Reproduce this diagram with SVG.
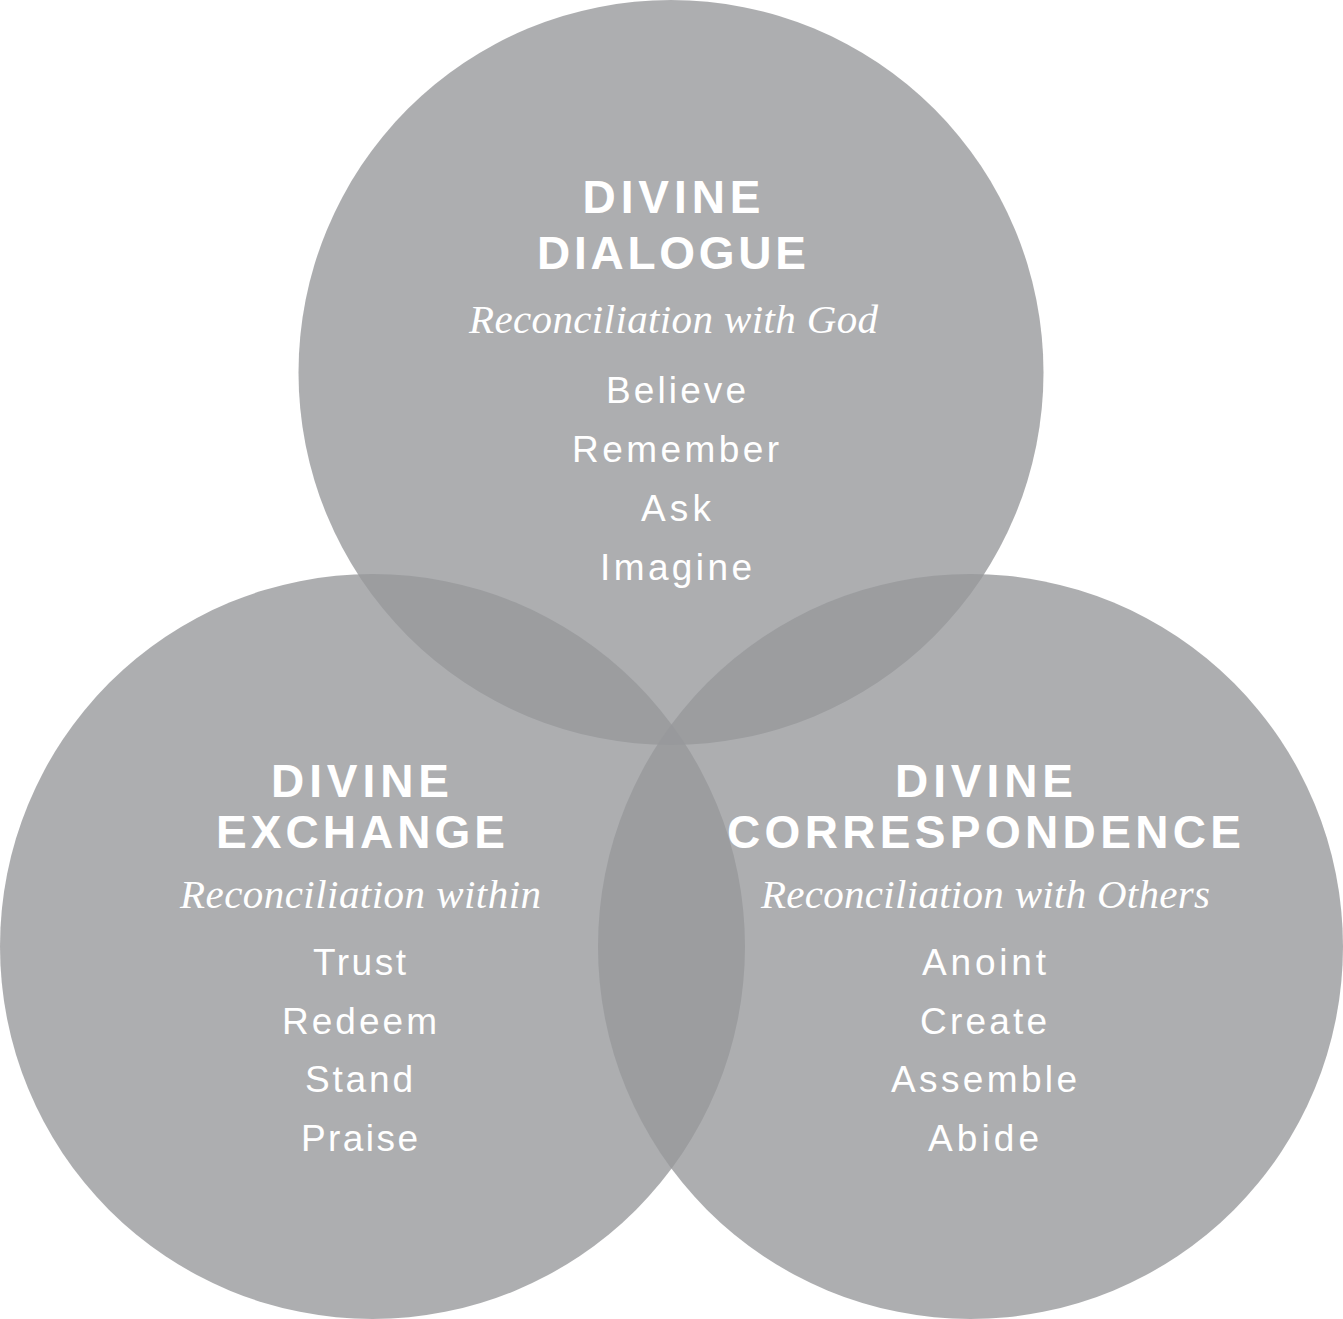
<svg xmlns="http://www.w3.org/2000/svg" width="1343" height="1319" viewBox="0 0 1343 1319">
<style>
.c{fill:rgb(151,152,155);fill-opacity:0.79}
.h{font-family:"Liberation Sans",Arial,sans-serif;font-weight:bold;font-size:46px;fill:#fff;text-anchor:middle}
.s{font-family:"Liberation Serif","Times New Roman",serif;font-style:italic;font-size:41px;fill:#fff;text-anchor:middle}
.l{font-family:"Liberation Sans",Arial,sans-serif;font-size:37px;fill:#fff;text-anchor:middle}
</style>
<rect width="1343" height="1319" fill="#fff"/>
<g id="dialogue">
<circle class="c" cx="671" cy="372.5" r="372.5"/>
<text class="h" x="671.5" y="213" textLength="178" lengthAdjust="spacing">DIVINE</text>
<text class="h" x="671.5" y="269" textLength="269" lengthAdjust="spacing">DIALOGUE</text>
<text class="s" x="673.5" y="333" textLength="409" lengthAdjust="spacing">Reconciliation with God</text>
<text class="l" x="676" y="403" textLength="140" lengthAdjust="spacing">Believe</text>
<text class="l" x="675.5" y="462" textLength="207" lengthAdjust="spacing">Remember</text>
<text class="l" x="676" y="521" textLength="70" lengthAdjust="spacing">Ask</text>
<text class="l" x="676" y="580" textLength="152" lengthAdjust="spacing">Imagine</text>
</g>
<g id="exchange">
<circle class="c" cx="372.5" cy="946.5" r="372.5"/>
<text class="h" x="360" y="797" textLength="178" lengthAdjust="spacing">DIVINE</text>
<text class="h" x="360.5" y="848" textLength="289" lengthAdjust="spacing">EXCHANGE</text>
<text class="s" x="360.5" y="908" textLength="361" lengthAdjust="spacing">Reconciliation within</text>
<text class="l" x="359.5" y="975" textLength="93" lengthAdjust="spacing">Trust</text>
<text class="l" x="359.5" y="1034" textLength="155" lengthAdjust="spacing">Redeem</text>
<text class="l" x="359" y="1092" textLength="108" lengthAdjust="spacing">Stand</text>
<text class="l" x="359.5" y="1151" textLength="117" lengthAdjust="spacing">Praise</text>
</g>
<g id="correspondence">
<circle class="c" cx="970.5" cy="946.5" r="372.5"/>
<text class="h" x="984" y="797" textLength="178" lengthAdjust="spacing">DIVINE</text>
<text class="h" x="984" y="848" textLength="514" lengthAdjust="spacing">CORRESPONDENCE</text>
<text class="s" x="985.5" y="908" textLength="449" lengthAdjust="spacing">Reconciliation with Others</text>
<text class="l" x="984" y="975" textLength="124" lengthAdjust="spacing">Anoint</text>
<text class="l" x="983.5" y="1034" textLength="127" lengthAdjust="spacing">Create</text>
<text class="l" x="984" y="1092" textLength="186" lengthAdjust="spacing">Assemble</text>
<text class="l" x="983.5" y="1151" textLength="111" lengthAdjust="spacing">Abide</text>
</g>
</svg>
